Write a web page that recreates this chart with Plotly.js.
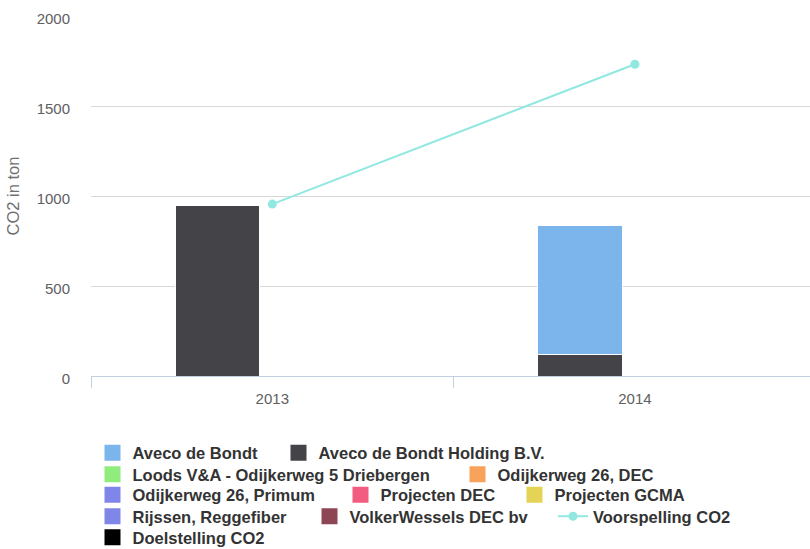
<!DOCTYPE html>
<html>
<head>
<meta charset="utf-8">
<script src="https://cdn.plot.ly/plotly-3.0.1.min.js"></script>
<style>html,body{margin:0;padding:0;background:#fff;}#chart{width:810px;height:549px;}</style>
</head>
<body>
<div id="chart"></div>
<script>
// ---- data ----
const years = ['2013', '2014'];
const avecoDeBondt = [null, 716];
const avecoDeBondtHolding = [948, 122];
const loodsVA = [null, null];
const odijkerweg26DEC = [null, null];
const odijkerweg26Primum = [null, null];
const projectenDEC = [null, null];
const projectenGCMA = [null, null];
const rijssenReggefiber = [null, null];
const volkerWesselsDEC = [null, null];
const voorspellingCO2 = [955, 1732];
const doelstellingCO2 = [null, null];

const seriesNames = [
  'Aveco de Bondt', 'Aveco de Bondt Holding B.V.', 'Loods V&A - Odijkerweg 5 Driebergen',
  'Odijkerweg 26, DEC', 'Odijkerweg 26, Primum', 'Projecten DEC', 'Projecten GCMA',
  'Rijssen, Reggefiber', 'VolkerWessels DEC bv', 'Voorspelling CO2', 'Doelstelling CO2'
];
const seriesColors = [
  '#7cb5ec', '#434348', '#90ed7d', '#f7a35c', '#8085e9', '#f15c80', '#e4d354',
  '#8085e8', '#8d4653', '#91e8e1', '#000000'
];
const barSeries = [avecoDeBondt, avecoDeBondtHolding, loodsVA, odijkerweg26DEC,
  odijkerweg26Primum, projectenDEC, projectenGCMA, rijssenReggefiber, volkerWesselsDEC];

// ---- geometry helpers ----
const W = 810, H = 549;
const ML = 91, MR = 0, MT = 16, MB = 173;
const PW = W - ML - MR, PH = H - MT - MB;
const px2x = p => (p - ML) / PW;
const py2y = p => (H - MB - p) / PH;

const FONT = '"Liberation Sans", Arial, Helvetica, sans-serif';

// stacking order: bottom first (Highcharts draws first series on top)
const traces = [];
const stackOrder = [8, 7, 6, 5, 4, 3, 2, 1, 0];
stackOrder.forEach(i => {
  traces.push({
    type: 'bar', x: years, y: barSeries[i], name: seriesNames[i],
    marker: {color: seriesColors[i], line: {color: '#ffffff', width: 1}},
    width: 0.234, offset: -0.268, showlegend: false, hoverinfo: 'skip'
  });
});
traces.push({
  type: 'bar', x: years, y: doelstellingCO2, name: seriesNames[10],
  marker: {color: seriesColors[10]}, width: 0.234, offset: 0.034,
  showlegend: false, hoverinfo: 'skip'
});

// legend placement (symbol centre px, row centre px)
const legendPos = [
  [112.5, 453], [298.5, 453],
  [112.5, 474.5], [477.5, 474.5],
  [112.5, 495], [360.5, 495], [534.5, 495],
  [112.5, 516.5], [329.5, 516.5], [573, 516.5],
  [112.5, 537.5]
];

const layout = {
  width: W, height: H,
  margin: {l: ML, r: MR, t: MT, b: MB, pad: 0, autoexpand: false},
  paper_bgcolor: '#ffffff', plot_bgcolor: '#ffffff',
  barmode: 'stack', hovermode: false,
  font: {family: FONT, color: '#606060'},
  xaxis: {
    type: 'category', range: [-0.5, -0.5 + PW / 362.6],
    showline: true, linecolor: '#c0d0e0', linewidth: 1,
    ticks: 'outside', tickson: 'boundaries', ticklen: 11, tickcolor: '#c0d0e0', tickwidth: 1,
    showgrid: false, zeroline: false, ticklabelstandoff: 9,
    tickfont: {family: FONT, size: 15, color: '#606060'}
  },
  yaxis: {
    range: [0, 2000], dtick: 500, tick0: 0,
    showgrid: true, gridcolor: '#d8d8d8', gridwidth: 1,
    zeroline: false, showline: false, ticks: '',
    ticklabelstandoff: 20, ticklabelshift: 3,
    tickfont: {family: FONT, size: 15, color: '#606060'},
    title: {text: 'CO2 in ton', font: {family: FONT, size: 16.5, color: '#707070'}, standoff: 12}
  },
  showlegend: true
};

legendPos.forEach((p, k) => {
  const key = k === 0 ? 'legend' : 'legend' + (k + 1);
  layout[key] = {
    x: px2x(p[0] - 20), y: py2y(p[1]), xanchor: 'left', yanchor: 'middle',
    orientation: 'v', bgcolor: 'rgba(0,0,0,0)', borderwidth: 0,
    font: {family: FONT, size: 16.5, color: '#333333', weight: 'bold'},
    itemclick: false, itemdoubleclick: false
  };
});

// legend entries, in the reference order
seriesNames.forEach((name, i) => {
  const legendKey = i === 0 ? 'legend' : 'legend' + (i + 1);
  if (i === 9) {
    traces.push({
      type: 'scatter', mode: 'lines+markers', x: years, y: voorspellingCO2, name: name,
      line: {color: seriesColors[i], width: 2},
      marker: {color: seriesColors[i], size: 9, symbol: 'circle'},
      legend: legendKey, hoverinfo: 'skip'
    });
  } else {
    traces.push({
      type: 'scatter', mode: 'markers', x: [null], y: [null], name: name,
      marker: {color: seriesColors[i], size: 16, symbol: 'square', line: {width: 0}},
      legend: legendKey, hoverinfo: 'skip'
    });
  }
});

Plotly.newPlot('chart', traces, layout, {displayModeBar: false, staticPlot: true});
</script>
</body>
</html>
